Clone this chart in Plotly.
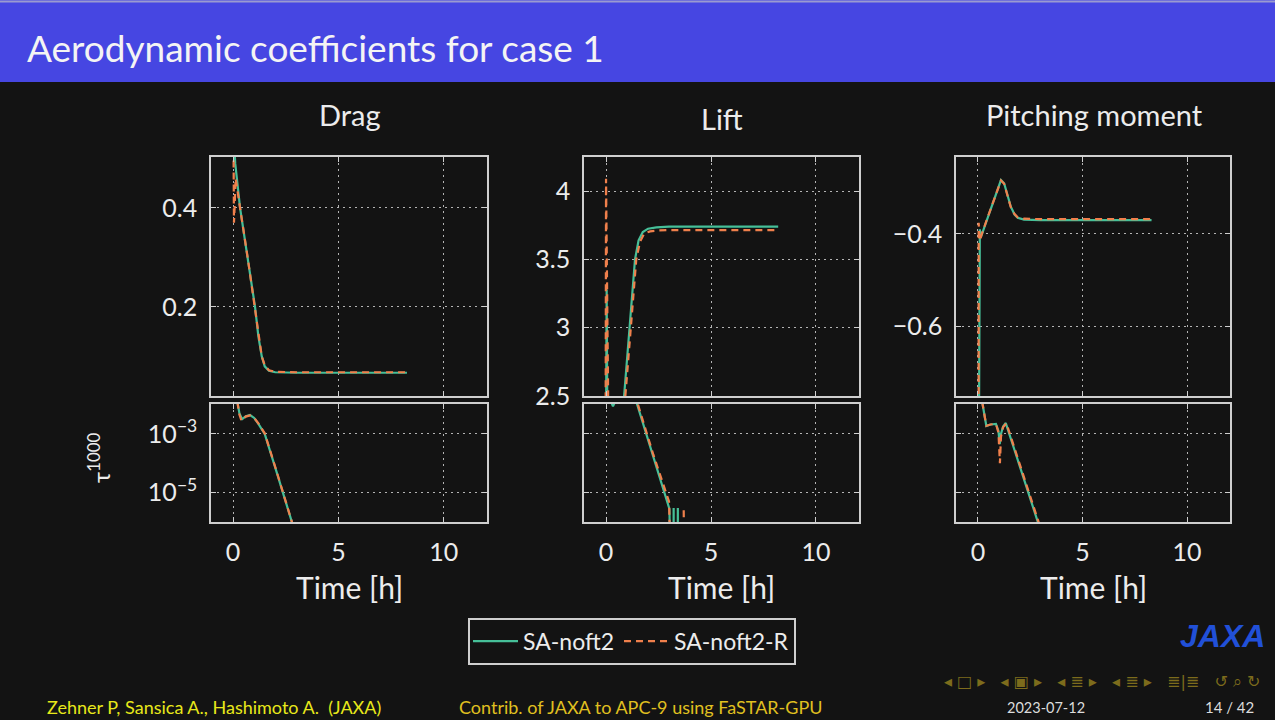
import plotly.graph_objects as go

# ---------------- data ----------------
series_names = ["SA-noft2", "SA-noft2-R"]
panel_titles = ["Drag", "Lift", "Pitching moment"]
x_tick_vals = [0, 5, 10]
x_tick_text = ["0", "5", "10"]
drag_tick_vals = [0.2, 0.4]
drag_tick_text = ["0.2", "0.4"]
lift_tick_vals = [2.5, 3.0, 3.5, 4.0]
lift_tick_text = ["2.5", "3", "3.5", "4"]
pitch_tick_vals = [-0.6, -0.4]
pitch_tick_text = ["\u22120.6", "\u22120.4"]
res_tick_vals = [1e-5, 1e-3]
res_tick_text = ["10<sup>\u22125</sup>", "10<sup>\u22123</sup>"]

# Drag coefficient
drag_t_a = [0.05, 0.1, 0.33, 0.7, 1.04, 1.2, 1.36, 1.5, 1.7, 2.0, 2.5, 3.0, 5.0, 8.25]
drag_a = [0.53, 0.49, 0.40, 0.296, 0.20, 0.14, 0.10, 0.08, 0.071, 0.068, 0.067, 0.067, 0.067, 0.067]
drag_t_b = [0.02, 0.04, 0.07, 0.12, 0.2, 0.33, 0.7, 1.04, 1.2, 1.36, 1.5, 1.7, 2.0, 2.5, 3.0, 5.0, 8.25]
drag_b = [0.52, 0.37, 0.40, 0.46, 0.44, 0.40, 0.297, 0.20, 0.145, 0.10, 0.082, 0.072, 0.069, 0.068, 0.068, 0.068, 0.068]

# Drag residual
drag_res_t_a = [0.2, 0.3, 0.43, 0.6, 0.8, 1.0, 1.2, 1.5, 2.0, 2.37, 2.8, 3.0]
drag_res_a = [1.26e-2, 5.0e-3, 3.2e-3, 4.0e-3, 4.4e-3, 3.5e-3, 2.2e-3, 1.0e-3, 7.1e-5, 1.0e-5, 1.0e-6, 3.2e-7]
drag_res_t_b = [0.2, 0.3, 0.4, 0.6, 0.8, 1.0, 1.2, 1.5, 2.0, 2.37, 2.8, 3.0]
drag_res_b = [1.26e-2, 4.5e-3, 2.8e-3, 3.9e-3, 4.3e-3, 3.5e-3, 2.3e-3, 1.05e-3, 7.5e-5, 1.05e-5, 1.05e-6, 3.2e-7]

# Lift coefficient
lift_t_a = [0.0, 0.03, 0.06, 0.15, 0.4, 0.7, 0.86, 1.1, 1.38, 1.55, 1.75, 2.0, 2.4, 3.0, 5.0, 8.2]
lift_a = [2.3, 3.28, 2.4, 2.1, 2.0, 2.2, 2.5, 2.96, 3.5, 3.64, 3.70, 3.725, 3.735, 3.74, 3.74, 3.74]
lift_t_b = [-0.02, 0.0, 0.1, 0.3, 0.6, 0.92, 1.17, 1.44, 1.62, 1.82, 2.1, 2.5, 3.0, 5.0, 8.2]
lift_b = [2.3, 4.09, 2.5, 2.0, 2.1, 2.5, 2.98, 3.5, 3.63, 3.69, 3.705, 3.712, 3.715, 3.715, 3.715]

# Lift residual
lift_res_t_a = [0.25, 0.33, 0.42, None, 1.45, 2.2, 2.95, 3.02, 3.05, None, 3.22, 3.22, None, 3.42, 3.42]
lift_res_a = [1.2e-2, 8.7e-3, 1.2e-2, None, 1.2e-2, 2.3e-4, 4.6e-6, 2.8e-6, 1e-7, None, 3.0e-6, 1e-7, None, 3.0e-6, 1e-7]
lift_res_t_b = [1.52, 2.25, 3.0, 3.06, None, 3.7, 3.72]
lift_res_b = [1.0e-2, 2.0e-4, 5.0e-6, 1e-7, None, 2.5e-6, 1e-7]

# Pitching moment coefficient
pitch_t_a = [0.05, 0.06, 0.09, 0.14, 0.4, 0.7, 0.95, 1.1, 1.25, 1.4, 1.57, 1.75, 1.9, 2.2, 3.0, 5.0, 8.3]
pitch_a = [-0.80, -0.45, -0.39, -0.407, -0.373, -0.335, -0.30, -0.283, -0.29, -0.315, -0.341, -0.358, -0.365, -0.369, -0.37, -0.37, -0.37]
pitch_t_b = [0.03, 0.035, 0.06, 0.1, 0.15, 0.4, 0.7, 0.95, 1.1, 1.25, 1.4, 1.57, 1.75, 1.9, 2.2, 3.0, 5.0, 8.3]
pitch_b = [-0.80, -0.376, -0.40, -0.415, -0.405, -0.372, -0.334, -0.30, -0.284, -0.291, -0.316, -0.342, -0.357, -0.364, -0.367, -0.368, -0.368, -0.368]

# Pitching moment residual
pitch_res_t_a = [0.2, 0.3, 0.4, 0.6, 0.86, 0.98, 1.04, 1.1, 1.2, 1.33, 1.6, 2.0, 2.4, 2.86, 3.0]
pitch_res_a = [1.26e-2, 4.0e-3, 1.86e-3, 2.1e-3, 2.2e-3, 1.26e-3, 4.5e-4, 1.0e-3, 1.8e-3, 2.35e-3, 6.0e-4, 8.3e-5, 1.12e-5, 1.12e-6, 5.0e-7]
pitch_res_t_b = [0.2, 0.3, 0.4, 0.6, 0.86, 0.98, 1.05, 1.1, 1.2, 1.36, 1.6, 2.0, 2.4, 2.9, 3.0]
pitch_res_b = [1.26e-2, 4.0e-3, 1.9e-3, 2.1e-3, 2.2e-3, 1.1e-3, 1.0e-4, 8.0e-4, 1.7e-3, 2.3e-3, 7.0e-4, 9.5e-5, 1.3e-5, 1.1e-6, 6.0e-7]

# ---------------- styling ----------------
W, H = 1275, 720
BG = "#131313"
GREEN = "#46bf98"
ORANGE = "#f0804c"
FRAME = "#cfcfcf"
GRID = "#b4b4b4"
TXT = "#ececec"
FONT = "Lato"


def px(x):
    return x / W


def py(y):
    return 1 - y / H


fig = go.Figure()

panels = [
    (1, drag_t_a, drag_a, drag_t_b, drag_b),
    (2, drag_res_t_a, drag_res_a, drag_res_t_b, drag_res_b),
    (3, lift_t_a, lift_a, lift_t_b, lift_b),
    (4, lift_res_t_a, lift_res_a, lift_res_t_b, lift_res_b),
    (5, pitch_t_a, pitch_a, pitch_t_b, pitch_b),
    (6, pitch_res_t_a, pitch_res_a, pitch_res_t_b, pitch_res_b),
]

for idx, ta, ya, tb, yb in panels:
    suffix = "" if idx == 1 else str(idx)
    first = idx == 1
    fig.add_trace(go.Scatter(
        x=ta, y=ya, mode="lines", name=series_names[0],
        line=dict(color=GREEN, width=2.2), connectgaps=False,
        xaxis="x" + suffix, yaxis="y" + suffix,
        showlegend=first, legendgroup="a", hoverinfo="skip"))
    fig.add_trace(go.Scatter(
        x=tb, y=yb, mode="lines", name=series_names[1],
        line=dict(color=ORANGE, width=2.2, dash="7px,5px"), connectgaps=False,
        xaxis="x" + suffix, yaxis="y" + suffix,
        showlegend=first, legendgroup="b", hoverinfo="skip"))

col_x = [(211, 487), (584, 859), (956, 1230)]
upper_y = (157, 396)
lower_y = (404, 522)

axis_common = dict(
    showline=True, linecolor=FRAME, linewidth=1.6, mirror="allticks",
    ticks="inside", ticklen=5, tickwidth=1.4, tickcolor=FRAME,
    showgrid=True, gridcolor=GRID, gridwidth=1, griddash="2px,4px",
    zeroline=False, tickfont=dict(family=FONT, size=25, color=TXT),
    ticklabelstandoff=7, automargin=False,
)

layout_axes = {}
for c in range(3):
    x0, x1 = col_x[c]
    for r in range(2):
        idx = c * 2 + r + 1
        sfx = "" if idx == 1 else str(idx)
        yy = upper_y if r == 0 else lower_y
        xa = dict(axis_common)
        xa.update(domain=[px(x0), px(x1)], range=[-1.05, 12.05],
                  tickvals=x_tick_vals, ticktext=x_tick_text,
                  anchor="y" + sfx, showticklabels=(r == 1))
        ya = dict(axis_common)
        ya.update(domain=[py(yy[1]), py(yy[0])], anchor="x" + sfx)
        if r == 0:
            if c == 0:
                ya.update(range=[0.02, 0.503], tickvals=drag_tick_vals, ticktext=drag_tick_text)
            elif c == 1:
                ya.update(range=[2.5, 4.25], tickvals=lift_tick_vals, ticktext=lift_tick_text)
            else:
                ya.update(range=[-0.752, -0.233], tickvals=pitch_tick_vals, ticktext=pitch_tick_text)
        else:
            ya.update(type="log", range=[-6.0, -1.98], tickvals=res_tick_vals,
                      ticktext=res_tick_text, showticklabels=(c == 0))
        layout_axes["xaxis" + sfx] = xa
        layout_axes["yaxis" + sfx] = ya


def ann(text, x, y, size, color, xanchor="center", family=FONT, angle=0):
    return dict(text=text, x=px(x), y=py(y), xref="paper", yref="paper",
                xanchor=xanchor, yanchor="middle", showarrow=False, textangle=angle,
                font=dict(family=family, size=size, color=color))


annotations = [
    ann("Aerodynamic coefficients for case 1", 25, 48, 37, "#f4f4f4", xanchor="left"),
    ann(panel_titles[0], 350, 114, 29, TXT),
    ann(panel_titles[1], 722, 119, 29, TXT),
    ann(panel_titles[2], 1094, 114, 29, TXT),
    ann("\u03c4<sup>1000</sup>", 99, 458, 24, TXT, angle=-90),
    ann("Zehner P, Sansica A., Hashimoto A.  (JAXA)", 45, 707, 18, "#e8e81a", xanchor="left"),
    ann("Contrib. of JAXA to APC-9 using FaSTAR-GPU", 457, 707, 18, "#e0c020", xanchor="left"),
    ann("2023-07-12", 1005, 707, 14.5, "#dcdcdc", xanchor="left"),
    ann("14 / 42", 1256, 707, 15, "#dcdcdc", xanchor="right"),
    ann("\u25c2 \u25a1 \u25b8   \u25c2 \u25a3 \u25b8   \u25c2 \u2263 \u25b8   \u25c2 \u2263 \u25b8   \u2263|\u2263   \u21ba \u2315 \u21bb",
        1262, 681, 16, "#7d6c1c", xanchor="right", family="DejaVu Sans"),
    ann("<b><i>JAXA</i></b>", 1267, 636, 32, "#2150d8", xanchor="right", family="Liberation Sans"),
]

for c in range(3):
    cx = (col_x[c][0] + col_x[c][1]) / 2
    annotations.append(ann("Time [h]", cx, 587, 30, TXT))

shapes = [
    dict(type="rect", xref="paper", yref="paper", x0=0, x1=1, y0=py(82), y1=py(0),
         fillcolor="#4646e2", line=dict(width=0), layer="below"),
    dict(type="line", xref="paper", yref="paper", x0=0, x1=1, y0=py(1.5), y1=py(1.5),
         line=dict(color="#9a9ad0", width=2), layer="below"),
]

fig.update_layout(
    width=W, height=H, margin=dict(l=0, r=0, t=0, b=0, autoexpand=False),
    paper_bgcolor=BG, plot_bgcolor=BG,
    font=dict(family=FONT, color=TXT),
    showlegend=True,
    legend=dict(orientation="h", x=px(468), y=py(618), xanchor="left", yanchor="top",
                bgcolor=BG, bordercolor=FRAME, borderwidth=1.6,
                font=dict(family=FONT, size=23, color=TXT),
                itemwidth=45, tracegroupgap=0),
    annotations=annotations, shapes=shapes,
    **layout_axes,
)

fig.write_html("out.html")
